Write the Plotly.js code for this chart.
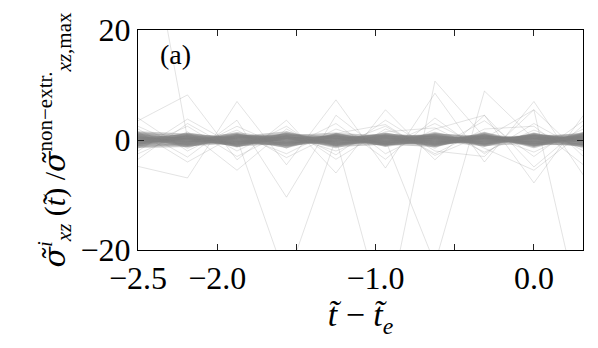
<!DOCTYPE html>
<html>
<head>
<meta charset="utf-8">
<script src="https://cdn.plot.ly/plotly-3.0.1.min.js"></script>
<style>
  html, body { margin: 0; padding: 0; background: #fff; }
  #chart { width: 598px; height: 348px; }
</style>
</head>
<body>
<div id="chart"></div>
<script>
// time relative to the extreme event, t~ - t~_e
const tRel = [-2.5, -2.1875, -1.875, -1.5625, -1.25, -0.9375, -0.625, -0.3125, 0.0, 0.3125];

// runs with one large excursion
const outlierRuns = [
    [49.0, 0.3, -0.5, 0.4, 0.2, -0.3, 0.5, -0.2, 0.3, 0.1],
    [0.5, -0.4, 0.2, -25.5, 0.3, -0.6, 0.4, 0.2, -0.3, 0.5],
    [-0.3, 0.6, -0.2, 0.4, 0.3, -33.0, 10.7, 0.5, 0.3, -0.4],
    [0.2, -0.3, 0.5, -0.4, 0.6, 0.0, -22.5, 8.9, 0.2, 0.6],
    [0.4, 0.2, -0.3, 0.5, -0.2, 0.4, -0.6, 0.3, 5.5, -34.0]
];

// runs with moderate zig-zag fluctuations
const wideRuns = [
    [3.5, 8.2, -3.6, 3.6, -6.0, 5.5, -3.6, 4.5, -7.8, 4.5],
    [-4.8, -6.9, 7.0, -4.5, 7.3, -5.1, 8.5, -4.0, 7.0, -6.4],
    [2.0, -3.1, 3.6, -10.4, 4.5, -2.5, 2.0, 4.5, -4.9, 2.7],
    [-2.5, 1.5, -5.5, 2.0, -2.7, 3.6, -2.0, -3.0, 5.5, -3.0],
    [4.0, -2.0, 2.5, -1.5, 3.0, -3.5, 4.0, -2.5, 3.0, -2.0],
    [-3.5, 3.0, -2.0, 2.5, -3.5, 2.0, -1.5, 3.5, -3.0, 3.5],
    [1.5, -4.0, 1.0, -2.5, 2.0, -1.0, 3.0, -1.5, -5.5, 1.5],
    [-1.5, 2.5, -3.0, 1.5, -1.0, 2.5, -2.5, 2.0, 2.5, -4.5],
    [2.5, -1.5, 1.8, -3.2, 1.2, 2.8, -2.8, 1.0, -2.2, 2.0],
    [-2.0, 3.8, -1.2, 0.8, -2.0, 1.5, 2.2, -2.2, 1.8, -1.5]
];

// runs that stay close to zero (the dark band)
const coreRuns = [
    [0.4, -0.3, 0.6, -0.5, 0.2, -0.4, 0.5, -0.2, 0.3, -0.1],
    [-0.6, 0.5, -0.2, 0.8, -0.4, 0.3, -0.5, 0.6, -0.3, 0.4],
    [0.9, -0.7, 0.3, 0.1, 0.6, -0.8, 0.2, 0.4, -0.6, 0.7],
    [-0.2, 0.1, -0.7, 0.5, -0.9, 0.6, -0.1, -0.4, 0.8, -0.5],
    [1.2, 0.4, -0.5, 1.0, 0.3, 0.7, -0.9, 0.5, 0.2, 1.1],
    [-1.1, -0.5, 0.9, -0.6, 0.7, -0.2, 0.6, -0.8, -0.4, -0.9],
    [0.1, 0.8, 0.2, -0.3, -0.1, 0.9, 0.4, 0.1, 0.7, 0.2],
    [-0.4, -0.9, -0.3, 0.2, 0.5, -0.6, -0.3, 0.8, -0.8, 0.3],
    [0.6, 0.2, 1.0, -0.9, 0.1, 0.4, 0.8, -0.6, 0.5, -0.7],
    [-0.8, 0.6, -1.0, 0.4, -0.5, -0.1, -0.7, 0.3, 0.1, 0.6],
    [0.3, -0.2, 0.4, 1.3, -0.8, 0.2, 0.1, -0.9, 1.0, -0.3],
    [-0.3, 1.0, 0.0, -1.1, 0.9, -0.5, 1.0, 0.2, -0.2, 0.0],
    [0.7, -1.1, 0.7, 0.3, -0.3, 1.1, -0.4, 0.7, -1.0, 0.9],
    [-0.9, 0.3, -0.6, 0.6, 1.1, -1.0, 0.3, -0.3, 0.4, -1.1],
    [0.2, -0.6, 1.2, -0.2, -0.6, 0.5, -1.1, 1.1, -0.5, 0.5],
    [-0.5, 0.7, -0.4, -0.7, 0.4, -0.3, 0.7, -0.7, 0.9, -0.2],
    [1.0, -0.1, 0.5, 0.7, -1.2, 0.8, -0.6, 0.0, 0.6, 0.8],
    [-0.1, 0.4, -0.9, -0.4, 0.8, 0.0, 0.9, 0.5, -0.7, -0.6],
    [0.5, -0.8, 0.1, 0.9, -0.2, -0.7, 0.0, -0.5, 0.0, 0.4],
    [-0.7, 1.1, -0.1, -0.8, 0.0, 1.0, -0.2, 0.9, -0.9, 1.0],
    [0.0, -0.4, 0.8, 0.0, 0.6, -0.9, 1.2, -1.0, 1.1, -0.8],
    [1.3, 0.9, -1.1, 1.1, -0.7, 0.1, -0.8, 0.6, -0.1, 0.1],
    [-1.2, -1.0, 0.6, -1.2, 1.0, 0.6, 0.5, -0.1, 0.6, -1.0],
    [0.8, 0.0, -0.8, 0.5, -1.0, -0.6, -1.0, 1.2, -1.2, 1.2]
];

const xTickVals = [-2.5, -2.0, -1.0, 0.0];
const xTickText = ['\u22122.5', '\u22122.0', '\u22121.0', '0.0'];
const xMinorVals = [-1.5, -0.5];
const yTickVals = [-20, 0, 20];
const yTickText = ['\u221220', '0', '20'];

const serif = 'Liberation Serif, DejaVu Serif, serif';

// every run drawn as a thin translucent grey line
const traces = [];
outlierRuns.concat(wideRuns).forEach(run => {
    traces.push({
        x: tRel,
        y: run,
        type: 'scatter',
        mode: 'lines',
        line: { color: 'rgba(128, 128, 128, 0.22)', width: 1 },
        hoverinfo: 'skip',
        showlegend: false
    });
});
// near-zero runs overlap into the dark band
coreRuns.forEach(run => {
    traces.push({
        x: tRel,
        y: run,
        type: 'scatter',
        mode: 'lines',
        line: { color: 'rgba(128, 128, 128, 0.4)', width: 3 },
        hoverinfo: 'skip',
        showlegend: false
    });
});

// sigma with tilde, drawn in a font that stacks combining marks well
const sig = '<span style="font-family:DejaVu Serif"><i>\u03c3\u0303</i></span>';

const layout = {
    width: 598,
    height: 348,
    paper_bgcolor: '#ffffff',
    plot_bgcolor: '#ffffff',
    margin: { l: 138, r: 15, t: 30, b: 98 },
    showlegend: false,
    hovermode: false,
    font: { family: serif, color: '#000' },
    xaxis: {
        range: [-2.5, 0.31],
        tickmode: 'array',
        tickvals: xTickVals,
        ticktext: xTickText,
        ticks: 'inside',
        ticklen: 6,
        tickwidth: 1,
        tickcolor: '#222',
        minor: { tickmode: 'array', tickvals: xMinorVals, ticks: 'inside', ticklen: 6, tickwidth: 1, tickcolor: '#222', showgrid: false },
        showline: true,
        linecolor: '#000',
        linewidth: 1,
        mirror: 'ticks',
        showgrid: false,
        zeroline: false,
        tickfont: { family: serif, size: 32, color: '#000' },
        title: {
            text: '<i>t\u0303</i> \u2212 <i>t\u0303</i><sub><i>e</i></sub>',
            font: { family: serif, size: 34, color: '#000' },
            standoff: 0
        }
    },
    yaxis: {
        range: [-20, 20],
        tickmode: 'array',
        tickvals: yTickVals,
        ticktext: yTickText,
        ticks: 'inside',
        ticklen: 6,
        tickwidth: 1,
        tickcolor: '#222',
        showline: true,
        linecolor: '#000',
        linewidth: 1,
        mirror: 'ticks',
        showgrid: false,
        zeroline: false,
        tickfont: { family: serif, size: 32, color: '#000' },
        title: {
            text: sig + '<sup><i>i</i></sup><sub><i>xz</i></sub> (<i>t\u0303</i>) /' + sig + '<sup>non\u2212extr.</sup><sub><i>xz</i>,max</sub>',
            font: { family: serif, size: 30, color: '#000' },
            standoff: 6
        }
    },
    annotations: [{
        text: '(a)',
        xref: 'paper',
        yref: 'paper',
        x: 0.045,
        y: 0.89,
        xanchor: 'left',
        yanchor: 'middle',
        showarrow: false,
        font: { family: serif, size: 28, color: '#000' }
    }]
};

Plotly.newPlot('chart', traces, layout, { displayModeBar: false, staticPlot: true });
</script>
</body>
</html>
